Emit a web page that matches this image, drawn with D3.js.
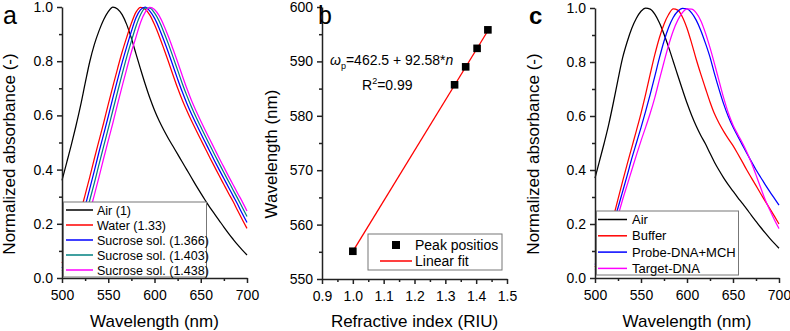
<!DOCTYPE html>
<html lang="en">
<head>
<meta charset="UTF-8">
<title>lspr-spectra</title>
<script src="https://cdn.jsdelivr.net/npm/d3@7/dist/d3.min.js"></script>
<style>
    body { margin: 0; background: #fff; }
    svg { display: block; font-family: "Liberation Sans", Arial, sans-serif; }
</style>
</head>
<body>
<svg id="chart" width="790" height="331"></svg>
<script>

// wavelength grid (nm) shared by all spectra
var wavelengths = [500,505,510,515,520,525,530,535,540,545,550,555,560,565,570,575,580,585,590,595,
                   600,605,610,615,620,625,630,635,640,645,650,655,660,665,670,675,680,685,690,695,700];

// panel a spectra
var airA = [0.36,0.425,0.49,0.56,0.635,0.718,0.798,0.862,0.912,0.953,0.983,1.0,
            0.993,0.972,0.935,0.885,0.827,0.77,0.715,0.664,0.619,0.58,0.546,0.515,0.486,0.457,0.428,0.399,0.37,0.341,
            0.313,0.286,0.26,0.236,0.212,0.188,0.165,0.143,0.122,0.103,0.085];
var waterA = [0.055,0.092,0.136,0.185,0.243,0.307,0.372,0.441,0.507,0.572,0.641,0.707,0.772,0.834,0.889,0.94,0.981,0.999,
              0.992,0.970,0.935,0.893,0.847,0.799,0.749,0.701,0.657,0.617,0.58,0.545,0.511,0.477,0.443,0.41,0.377,0.345,
              0.313,0.282,0.248,0.215,0.183];
var sucrose1366 = [0.037,0.066,0.107,0.152,0.205,0.265,0.33,0.396,0.465,0.530,0.596,0.665,0.731,0.795,0.854,0.91,0.96,0.99,1.0,
                   0.985,0.959,0.922,0.878,0.832,0.783,0.734,0.687,0.644,0.605,0.569,0.534,0.50,0.466,0.432,0.399,0.367,
                   0.335,0.303,0.271,0.237,0.205];
var sucrose1403 = [0.025,0.045,0.08,0.122,0.169,0.226,0.287,0.351,0.419,0.486,0.551,0.619,0.686,0.752,0.816,0.874,0.929,0.972,0.996,0.996,
                   0.978,0.948,0.908,0.864,0.816,0.767,0.718,0.673,0.631,0.593,0.558,0.523,0.489,0.455,0.422,0.389,
                   0.357,0.325,0.293,0.26,0.227];
var sucrose1438 = [0.02,0.03,0.055,0.092,0.136,0.185,0.243,0.307,0.372,0.441,0.507,0.572,0.641,0.707,0.772,0.834,0.889,0.944,0.981,0.999,
                   0.991,0.968,0.933,0.891,0.845,0.797,0.747,0.699,0.655,0.616,0.579,0.544,0.51,0.476,0.442,0.409,
                   0.376,0.344,0.312,0.281,0.247];
var seriesNamesA = ['Air (1)', 'Water (1.33)', 'Sucrose sol. (1.366)', 'Sucrose sol. (1.403)', 'Sucrose sol. (1.438)'];

// panel b: peak position vs refractive index
var refractiveIdx = [1.0, 1.33, 1.366, 1.403, 1.438];
var peakPos = [555.1, 585.7, 589.0, 592.4, 595.8];
var fitIntercept = 462.5, fitSlope = 92.58;

// panel c spectra
var airC = [0.37,0.435,0.50,0.57,0.65,0.735,0.815,0.875,0.925,0.962,0.988,1.0,
            0.996,0.977,0.945,0.903,0.855,0.803,0.75,0.698,0.648,0.603,0.563,0.528,0.497,0.462,0.428,0.398,0.37,0.345,
            0.322,0.299,0.277,0.255,0.232,0.21,0.188,0.167,0.147,0.128,0.11];
var bufferC = [0.04,0.07,0.11,0.162,0.225,0.292,0.358,0.422,0.484,0.546,0.61,0.68,0.755,0.827,0.89,0.94,0.976,0.997,
               0.992,0.967,0.925,0.87,0.81,0.755,0.703,0.652,0.607,0.572,0.542,0.515,0.49,0.461,0.431,0.40,0.371,0.342,
               0.313,0.285,0.257,0.229,0.2];
var probeC = [0.05,0.08,0.12,0.16,0.205,0.26,0.32,0.38,0.443,0.50,0.557,0.617,0.68,0.747,0.815,0.877,0.928,0.965,0.988,0.999,
              0.997,0.982,0.955,0.917,0.87,0.818,0.755,0.697,0.643,0.597,0.559,0.526,0.494,0.462,0.431,0.401,
              0.373,0.346,0.32,0.295,0.27];
var targetC = [0.03,0.05,0.08,0.12,0.17,0.23,0.29,0.345,0.40,0.455,0.508,0.558,0.61,0.668,0.735,0.80,0.862,0.915,0.955,0.983,0.997,
               0.996,0.982,0.953,0.908,0.853,0.792,0.728,0.665,0.61,0.567,0.533,0.502,0.467,0.427,0.382,
               0.335,0.29,0.252,0.216,0.183];
var seriesNamesC = ['Air', 'Buffer', 'Probe-DNA+MCH', 'Target-DNA'];

// ticks
var absTicks = [0, 0.2, 0.4, 0.6, 0.8, 1.0], absMinor = [0.1, 0.3, 0.5, 0.7, 0.9];
var wlTicks = [500, 550, 600, 650, 700], wlMinor = [525, 575, 625, 675];
var riTicks = [0.9, 1.0, 1.1, 1.2, 1.3, 1.4, 1.5], riMinor = [0.95, 1.05, 1.15, 1.25, 1.35, 1.45];
var pkTicks = [550, 560, 570, 580, 590, 600], pkMinor = [555, 565, 575, 585, 595];

var svg = d3.select('#chart');
var axisColor = '#222';

//坐标轴 (major + minor ticks, no box)
function addAxes(x, y, o) {
    var y0 = y.range()[0], x0 = x.range()[0];
    var gx = svg.append('g').attr('transform', 'translate(0,' + y0 + ')')
        .call(d3.axisBottom(x).tickValues(o.xTicks).tickFormat(o.xFmt).tickSize(5).tickSizeOuter(0).tickPadding(7));
    svg.append('g').attr('transform', 'translate(0,' + y0 + ')')
        .call(d3.axisBottom(x).tickValues(o.xMinor).tickFormat('').tickSize(3).tickSizeOuter(0))
        .select('.domain').remove();
    var gy = svg.append('g').attr('transform', 'translate(' + x0 + ',0)')
        .call(d3.axisLeft(y).tickValues(o.yTicks).tickFormat(o.yFmt).tickSize(5).tickSizeOuter(0).tickPadding(4));
    svg.append('g').attr('transform', 'translate(' + x0 + ',0)')
        .call(d3.axisLeft(y).tickValues(o.yMinor).tickFormat('').tickSize(3).tickSizeOuter(0))
        .select('.domain').remove();
    svg.selectAll('.tick line, .domain').attr('stroke', axisColor).attr('stroke-width', 1.5);
    [gx, gy].forEach(function (g) {
        g.selectAll('text').attr('font-size', 14).attr('fill', '#000')
            .attr('font-family', '"Liberation Sans", Arial, sans-serif');
    });
    // axis titles
    svg.append('text').attr('x', (x.range()[0] + x.range()[1]) / 2).attr('y', 327)
        .attr('text-anchor', 'middle').attr('font-size', 17).text(o.xTitle);
    svg.append('text').attr('transform', 'translate(' + o.yTitleX + ',154) rotate(-90)')
        .attr('text-anchor', 'middle').attr('font-size', 17).text(o.yTitle);
}

function addLegend(box, rows, fontSize) {
    svg.append('rect').attr('x', box.x).attr('y', box.y).attr('width', box.w).attr('height', box.h)
        .attr('fill', '#fff').attr('stroke', '#777').attr('stroke-width', 1);
    rows.forEach(function (r, i) {
        var cy = box.row0 + i * box.step;
        if (r.square) {
            svg.append('rect').attr('x', (box.lx0 + box.lx1) / 2 - 4).attr('y', cy - 4)
                .attr('width', 8).attr('height', 8).attr('fill', '#000');
        } else {
            svg.append('line').attr('x1', box.lx0).attr('x2', box.lx1).attr('y1', cy).attr('y2', cy)
                .attr('stroke', r.color).attr('stroke-width', 1.5);
        }
        svg.append('text').attr('x', box.tx).attr('y', cy).attr('dy', '0.36em')
            .attr('font-size', fontSize).text(r.name);
    });
}

function spectrumLine(x, y) {
    return d3.line()
        .x(function (d) { return x(d[0]); })
        .y(function (d) { return y(d[1]); })
        .curve(d3.curveMonotoneX);
}

function drawSpectra(x, y, list) {
    var line = spectrumLine(x, y);
    list.forEach(function (s) {
        svg.append('path')
            .datum(wavelengths.map(function (w, i) { return [w, s.values[i]]; }))
            .attr('d', line).attr('fill', 'none').attr('stroke', s.color).attr('stroke-width', 1.25);
    });
}

/* ---------- panel a ---------- */
var xa = d3.scaleLinear().domain([500, 700]).range([62, 247]);
var ya = d3.scaleLinear().domain([0, 1]).range([278, 7]);
var colorsA = ['#000000', '#ff0000', '#0000ff', '#008080', '#ff00ff'];
var seriesA = [airA, waterA, sucrose1366, sucrose1403, sucrose1438];
drawSpectra(xa, ya, seriesA.map(function (v, i) { return { values: v, color: colorsA[i] }; }));
addAxes(xa, ya, {
    xTicks: wlTicks, xMinor: wlMinor, xFmt: d3.format('d'),
    yTicks: absTicks, yMinor: absMinor, yFmt: d3.format('.1f'),
    xTitle: 'Wavelength (nm)', yTitle: 'Normalized absorbance (-)', yTitleX: 15
});
addLegend({ x: 63.5, y: 202, w: 143, h: 75, row0: 210, step: 15, lx0: 66, lx1: 93, tx: 97 },
    seriesNamesA.map(function (n, i) { return { name: n, color: colorsA[i] }; }), 12.5);

/* ---------- panel b ---------- */
var xb = d3.scaleLinear().domain([0.9, 1.5]).range([322, 507]);
var yb = d3.scaleLinear().domain([550, 600]).range([279, 7]);
var fitEnds = d3.extent(refractiveIdx);
svg.append('line')
    .attr('x1', xb(fitEnds[0])).attr('y1', yb(fitIntercept + fitSlope * fitEnds[0]))
    .attr('x2', xb(fitEnds[1])).attr('y2', yb(fitIntercept + fitSlope * fitEnds[1]))
    .attr('stroke', '#ff0000').attr('stroke-width', 1.3);
svg.selectAll('.pk').data(refractiveIdx).enter().append('rect')
    .attr('class', 'pk')
    .attr('x', function (d) { return xb(d) - 3.8; })
    .attr('y', function (d, i) { return yb(peakPos[i]) - 3.8; })
    .attr('width', 7.6).attr('height', 7.6).attr('fill', '#000');
addAxes(xb, yb, {
    xTicks: riTicks, xMinor: riMinor, xFmt: d3.format('.1f'),
    yTicks: pkTicks, yMinor: pkMinor, yFmt: d3.format('d'),
    xTitle: 'Refractive index (RIU)', yTitle: 'Wavelength (nm)', yTitleX: 277
});
addLegend({ x: 368, y: 234, w: 134, h: 36, row0: 245, step: 16, lx0: 380, lx1: 412, tx: 415 },
    [{ name: 'Peak positios', square: true }, { name: 'Linear fit', color: '#ff0000' }], 14);

var eq = svg.append('text').attr('x', 330).attr('y', 65).attr('font-size', 14);
eq.append('tspan').attr('font-style', 'italic').text('\u03c9');
eq.append('tspan').attr('font-size', 9).attr('dy', 4).text('p');
eq.append('tspan').attr('dy', -4).text('=' + fitIntercept + ' + ' + fitSlope + '*');
eq.append('tspan').attr('font-style', 'italic').text('n');
var r2 = svg.append('text').attr('x', 362).attr('y', 90).attr('font-size', 14);
r2.append('tspan').text('R');
r2.append('tspan').attr('font-size', 9).attr('dy', -6).text('2');
r2.append('tspan').attr('dy', 6).text('=0.99');

/* ---------- panel c ---------- */
var xc = d3.scaleLinear().domain([500, 700]).range([595, 779]);
var yc = d3.scaleLinear().domain([0, 1]).range([278, 8]);
var colorsC = ['#000000', '#ff0000', '#0000ff', '#ff00ff'];
var seriesC = [airC, bufferC, probeC, targetC];
drawSpectra(xc, yc, seriesC.map(function (v, i) { return { values: v, color: colorsC[i] }; }));
addAxes(xc, yc, {
    xTicks: wlTicks, xMinor: wlMinor, xFmt: d3.format('d'),
    yTicks: absTicks, yMinor: absMinor, yFmt: d3.format('.1f'),
    xTitle: 'Wavelength (nm)', yTitle: 'Normalized absorbance (-)', yTitleX: 539
});
addLegend({ x: 596.5, y: 211, w: 142, h: 64, row0: 219.5, step: 16.3, lx0: 598, lx1: 627, tx: 632 },
    seriesNamesC.map(function (n, i) { return { name: n, color: colorsC[i] }; }), 13);

// panel letters
svg.append('text').attr('x', 3).attr('y', 24).attr('font-size', 25).text('a');
svg.append('text').attr('x', 318).attr('y', 24).attr('font-size', 25).text('b');
svg.append('text').attr('x', 529).attr('y', 24).attr('font-size', 24).attr('font-weight', 'bold').text('c');

</script>
</body>
</html>
